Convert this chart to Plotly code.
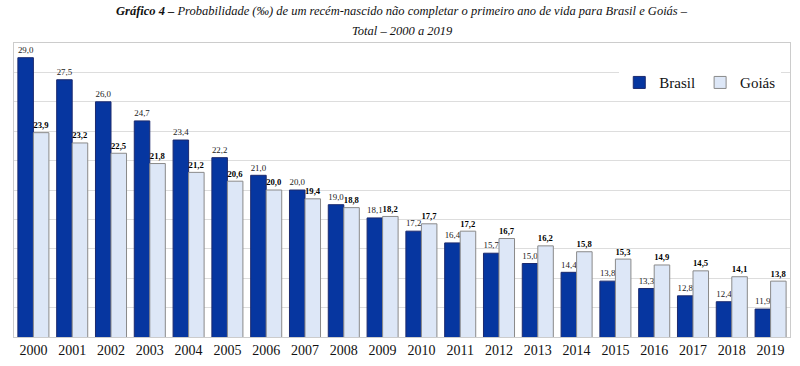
import plotly.graph_objects as go

years = [str(y) for y in range(2000, 2020)]
brasil = [29.0, 27.5, 26.0, 24.7, 23.4, 22.2, 21.0, 20.0, 19.0, 18.1,
          17.2, 16.4, 15.7, 15.0, 14.4, 13.8, 13.3, 12.8, 12.4, 11.9]
goias = [23.9, 23.2, 22.5, 21.8, 21.2, 20.6, 20.0, 19.4, 18.8, 18.2,
         17.7, 17.2, 16.7, 16.2, 15.8, 15.3, 14.9, 14.5, 14.1, 13.8]

def fmt(v):
    return f"{v:.1f}".replace(".", ",")

serif = "Liberation Serif, Times New Roman, serif"

fig = go.Figure()
fig.add_trace(go.Bar(
    x=years, y=brasil, name="Brasil",
    marker=dict(color="#0636a0", line=dict(color="#1c2a6e", width=1)),
    text=[fmt(v) for v in brasil], textposition="outside",
    textfont=dict(family=serif, size=10, color="#222"),
    cliponaxis=False,
))
fig.add_trace(go.Bar(
    x=years, y=goias, name="Goiás",
    marker=dict(color="#dde7f7", line=dict(color="#8a8a8a", width=1)),
    text=["<b>" + fmt(v) + "</b>" for v in goias], textposition="outside",
    textfont=dict(family=serif, size=11, color="#000"),
    cliponaxis=False,
))

title_lines = [
    "<b><i>Gráfico 4 –</i></b><i> Probabilidade (‰) de um recém-nascido não completar o primeiro ano de vida para Brasil e Goiás –</i>",
    "<i>Total – 2000 a 2019</i>",
]
for txt, yy in zip(title_lines, [1.11, 1.041]):
    fig.add_annotation(
        text=txt, xref="paper", yref="paper", x=0.5, y=yy,
        xanchor="center", yanchor="middle", showarrow=False,
        font=dict(family=serif, size=12.5, color="#111"),
    )

fig.update_layout(
    width=800, height=366,
    margin=dict(l=14, r=10, t=43, b=29, autoexpand=False),
    paper_bgcolor="white", plot_bgcolor="white",
    barmode="group", bargap=0.2, bargroupgap=0,
    legend=dict(
        orientation="h", x=0.78, y=0.865, xanchor="left", yanchor="middle",
        font=dict(family=serif, size=15, color="#111"),
        bgcolor="white", itemwidth=30,
    ),
    showlegend=True,
)
fig.update_xaxes(
    tickfont=dict(family=serif, size=14, color="#111"),
    showline=True, linecolor="#cccccc", mirror=True,
    ticks="outside", ticklen=0, automargin=False,
)
fig.update_yaxes(
    range=[10, 30], dtick=2, showticklabels=False,
    showgrid=True, gridcolor="#dddddd",
    showline=True, linecolor="#cccccc", mirror=True,
    zeroline=False, automargin=False,
)
fig.write_html("out.html", config={"displayModeBar": False},
               post_script="document.body.style.margin='0px';")
